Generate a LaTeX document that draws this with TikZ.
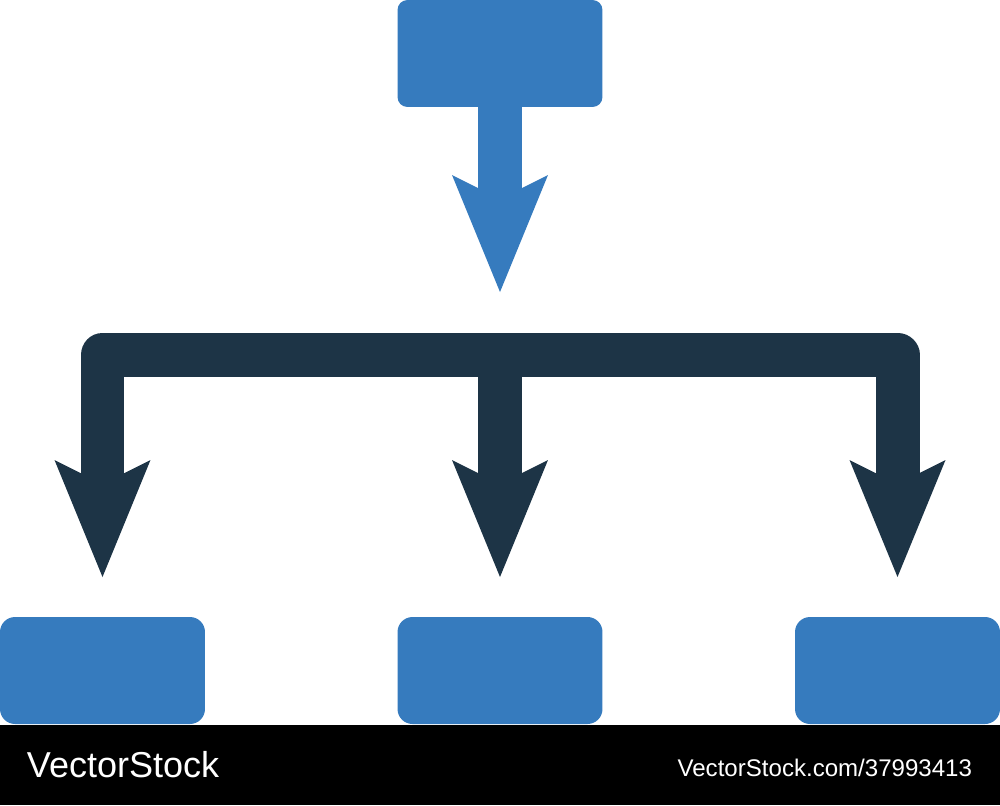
\documentclass[tikz,border=0pt]{standalone}
\usepackage{fontspec}
\setmainfont{Liberation Sans}
\usetikzlibrary{arrows.meta}
\definecolor{boxblue}{HTML}{367BBE}
\definecolor{busdark}{HTML}{1D3446}
\begin{document}
\begin{tikzpicture}[x=0.02cm,y=-0.02cm,
  box/.style={fill=boxblue,draw=none,rounded corners=0.2cm,minimum width=4.1cm,minimum height=2.14cm,inner sep=0pt,outer sep=0pt},
  lowbox/.style={box,rounded corners=0.3cm},
  bluearrow/.style={draw=boxblue,fill=boxblue,line width=0.88cm,-{Stealth[length=2.34cm,width=1.92cm,inset=0.48cm,line width=0pt,fill=boxblue]}},
  darkarrow/.style={draw=busdark,line width=0.88cm,line join=round,-{Stealth[length=2.34cm,width=1.92cm,inset=0.48cm,line width=0pt,fill=busdark]}},
  darkboth/.style={draw=busdark,line width=0.88cm,line join=round,{Stealth[length=2.34cm,width=1.92cm,inset=0.48cm,line width=0pt,fill=busdark]}-{Stealth[length=2.34cm,width=1.92cm,inset=0.48cm,line width=0pt,fill=busdark]}},
  mark text/.style={text=white,inner sep=0pt,outer sep=0pt}
]
\useasboundingbox (0,0) rectangle (1000,805);
\fill[white] (0,0) rectangle (1000,805);
% boxes
\node[box] (top) at (500,53.5) {};
\node[lowbox] (b1) at (102.5,670.5) {};
\node[lowbox] (b2) at (500,670.5) {};
\node[lowbox] (b3) at (897.5,670.5) {};
% coordinates
\coordinate (tip0) at (500,292);
\coordinate (tip1) at (102.5,577);
\coordinate (tip2) at (500,577);
\coordinate (tip3) at (897.5,577);
\coordinate (busL) at (102.5,355);
\coordinate (busM) at (500,355);
\coordinate (busR) at (897.5,355);
% connectors
\draw[bluearrow] (top.south) -- (tip0);
\draw[darkboth] (tip1) -- (busL) -- (busR) -- (tip3);
\draw[darkarrow] (busM) -- (tip2);
% watermark bar
\fill[black] (0,725) rectangle (1000,805);
\node[mark text,anchor=base west,font=\fontsize{20.5}{24}\selectfont] (wm1) at (27,777) {VectorStock};
\node[mark text,anchor=base east,font=\fontsize{13.7}{16}\selectfont] (wm2) at (972,776) {VectorStock.com/37993413};
\end{tikzpicture}
\end{document}
